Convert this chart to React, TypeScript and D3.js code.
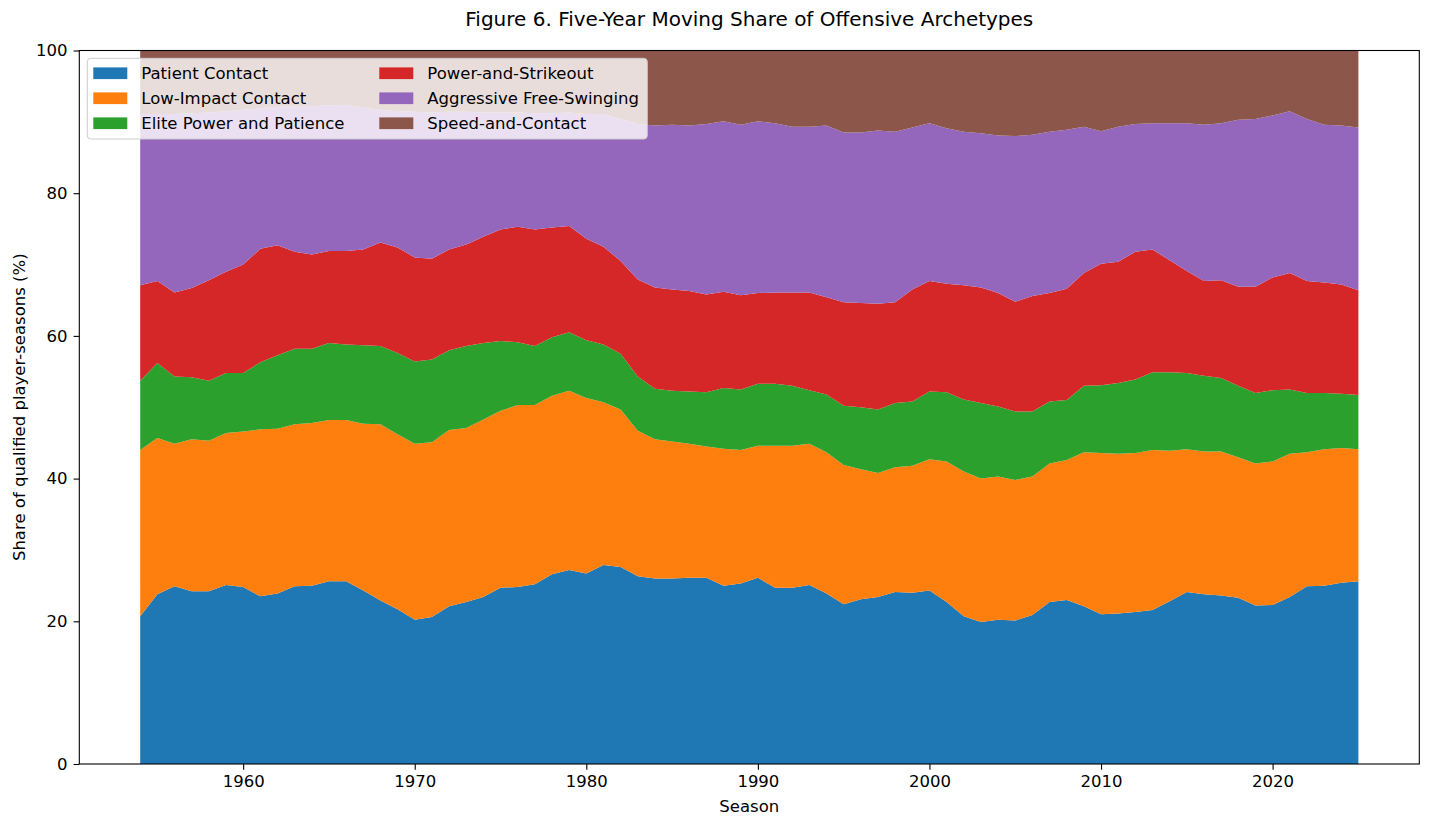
import React, { useRef, useEffect } from "react";
import * as d3 from "d3";

// Seasons 1954-2025 (five-year moving share, % of qualified player-seasons)
const firstSeason = 1954;
const lastSeason = 2025;

const archetypes = [
  "Patient Contact",
  "Low-Impact Contact",
  "Elite Power and Patience",
  "Power-and-Strikeout",
  "Aggressive Free-Swinging",
  "Speed-and-Contact",
];

const colors = ["#1f77b4", "#ff7f0e", "#2ca02c", "#d62728", "#9467bd", "#8c564b"];

const patientContact = [
  20.7, 23.8, 24.9, 24.2, 24.2, 25.1, 24.8, 23.5, 23.9, 24.9, 25.0, 25.6, 25.6, 24.3, 22.9, 21.7, 20.2, 20.6,
  22.1, 22.7, 23.4, 24.7, 24.8, 25.2, 26.6, 27.2, 26.7, 27.9, 27.6, 26.3, 26.0, 26.0, 26.1, 26.1, 25.0, 25.3,
  26.1, 24.7, 24.7, 25.1, 23.9, 22.4, 23.1, 23.4, 24.1, 24.0, 24.3, 22.7, 20.7, 19.9, 20.2, 20.1, 20.9, 22.7,
  23.0, 22.1, 21.0, 21.1, 21.3, 21.6, 22.8, 24.1, 23.8, 23.6, 23.3, 22.2, 22.3, 23.4, 24.9, 25.0, 25.4, 25.6,
];
const lowImpactContact = [
  23.3, 21.9, 20.0, 21.3, 21.1, 21.3, 21.8, 23.4, 23.1, 22.7, 22.8, 22.6, 22.6, 23.4, 24.7, 24.5, 24.7, 24.5,
  24.7, 24.4, 24.9, 24.8, 25.5, 25.1, 25.0, 25.1, 24.6, 22.8, 22.1, 20.4, 19.5, 19.2, 18.8, 18.4, 19.2, 18.7,
  18.5, 19.9, 19.9, 19.8, 19.8, 19.5, 18.2, 17.4, 17.5, 17.8, 18.4, 19.7, 20.3, 20.1, 20.1, 19.7, 19.4, 19.4,
  19.6, 21.6, 22.6, 22.4, 22.3, 22.4, 21.1, 20.0, 20.0, 20.2, 19.7, 19.9, 20.1, 20.1, 18.8, 19.1, 18.9, 18.5,
];
const elitePowerPatience = [
  9.7, 10.5, 9.4, 8.7, 8.4, 8.4, 8.2, 9.4, 10.3, 10.6, 10.4, 10.8, 10.6, 11.0, 11.0, 11.4, 11.5, 11.6,
  11.2, 11.5, 10.7, 9.8, 8.8, 8.3, 8.2, 8.2, 8.1, 8.1, 7.8, 7.6, 7.1, 7.1, 7.3, 7.6, 8.5, 8.5,
  8.7, 8.7, 8.4, 7.5, 8.1, 8.3, 8.7, 8.9, 9.0, 9.0, 9.5, 9.7, 10.1, 10.6, 9.8, 9.6, 9.1, 8.7,
  8.4, 9.3, 9.5, 9.9, 10.3, 10.9, 11.0, 10.7, 10.6, 10.3, 10.0, 9.9, 10.0, 9.0, 8.3, 7.9, 7.6, 7.6,
];
const powerStrikeout = [
  13.4, 11.5, 11.8, 12.5, 14.1, 14.2, 15.2, 15.9, 15.4, 13.6, 13.2, 12.9, 13.1, 13.4, 14.5, 14.8, 14.6, 14.1,
  14.1, 14.2, 14.9, 15.6, 16.2, 16.3, 15.4, 14.9, 14.2, 13.7, 13.0, 13.6, 14.2, 14.2, 14.1, 13.7, 13.5, 13.2,
  12.7, 12.8, 13.1, 13.7, 13.6, 14.5, 14.6, 14.8, 14.1, 15.7, 15.5, 15.2, 16.0, 16.2, 15.9, 15.4, 16.2, 15.2,
  15.6, 15.8, 17.0, 17.0, 17.9, 17.2, 15.7, 14.3, 13.3, 13.7, 13.9, 14.9, 15.8, 16.3, 15.7, 15.5, 15.3, 14.7,
];
const aggressiveFreeSwinging = [
  24.0, 23.4, 25.0, 24.5, 23.5, 22.5, 21.7, 19.7, 19.4, 20.4, 20.8, 20.4, 20.5, 19.9, 18.6, 19.1, 20.4, 20.5,
  19.3, 18.6, 17.4, 16.4, 16.0, 16.3, 16.0, 15.9, 17.5, 18.6, 19.9, 21.8, 22.7, 23.1, 23.2, 23.9, 23.9, 23.9,
  24.1, 23.7, 23.2, 23.2, 24.1, 23.8, 23.9, 24.3, 23.9, 22.7, 22.1, 21.8, 21.5, 21.6, 22.1, 23.2, 22.6, 22.6,
  22.3, 20.5, 18.6, 18.9, 17.9, 17.7, 19.2, 20.7, 21.9, 22.0, 23.4, 23.5, 22.7, 22.7, 22.7, 22.1, 22.3, 22.8,
];
const speedContact = [
  8.9, 8.9, 8.9, 8.8, 8.7, 8.5, 8.3, 8.1, 7.9, 7.8, 7.8, 7.7, 7.6, 8.0, 8.3, 8.5, 8.6, 8.7,
  8.6, 8.6, 8.7, 8.7, 8.7, 8.8, 8.8, 8.7, 8.9, 8.9, 9.6, 10.3, 10.5, 10.4, 10.5, 10.3, 9.9, 10.4,
  9.9, 10.2, 10.7, 10.7, 10.5, 11.5, 11.5, 11.2, 11.4, 10.8, 10.2, 10.9, 11.4, 11.6, 11.9, 12.0, 11.8, 11.4,
  11.1, 10.7, 11.3, 10.7, 10.3, 10.2, 10.2, 10.2, 10.4, 10.2, 9.7, 9.6, 9.1, 8.5, 9.6, 10.4, 10.5, 10.8,
];

const seriesValues = [
  patientContact,
  lowImpactContact,
  elitePowerPatience,
  powerStrikeout,
  aggressiveFreeSwinging,
  speedContact,
];

const xTicks = [1960, 1970, 1980, 1990, 2000, 2010, 2020];
const yTicks = [0, 20, 40, 60, 80, 100];

export default function App() {
  const ref = useRef<SVGSVGElement | null>(null);
  const width = 1431, height = 828;
  const margin = { top: 50.5, right: 11.7, bottom: 64, left: 79.3 };
  const font = "DejaVu Sans, sans-serif";

  useEffect(() => {
    const svg = d3.select(ref.current);
    svg.selectAll("*").remove();

    const seasons = d3.range(firstSeason, lastSeason + 1);
    const rows = seasons.map((s, i) => {
      const r: any = { season: s };
      archetypes.forEach((a, k) => (r[a] = seriesValues[k][i]));
      return r;
    });

    // matplotlib-style 5% x margin
    const pad = (lastSeason - firstSeason) * 0.05;
    const x = d3.scaleLinear()
      .domain([firstSeason - pad, lastSeason + pad])
      .range([margin.left, width - margin.right]);
    const y = d3.scaleLinear().domain([0, 100]).range([height - margin.bottom, margin.top]);

    const stacked = d3.stack().keys(archetypes)(rows);

    const area = d3.area<any>()
      .x(d => x(d.data.season))
      .y0(d => y(d[0]))
      .y1(d => y(d[1]));

    svg.append("g")
      .selectAll("path")
      .data(stacked)
      .join("path")
      .attr("fill", (d, i) => colors[i])
      .attr("d", area as any);

    // axes
    const xAxis = svg.append("g")
      .attr("transform", `translate(0,${height - margin.bottom})`)
      .call(d3.axisBottom(x).tickValues(xTicks).tickFormat(d3.format("d")).tickSize(5.7).tickPadding(6));
    const yAxis = svg.append("g")
      .attr("transform", `translate(${margin.left},0)`)
      .call(d3.axisLeft(y).tickValues(yTicks).tickSize(5.7).tickPadding(6));
    [xAxis, yAxis].forEach(g => {
      g.select(".domain").remove();
      g.selectAll("line").attr("stroke", "#000").attr("stroke-width", 1.1);
      g.selectAll("text").attr("font-size", 16.5).attr("font-family", font).attr("fill", "#000");
    });

    // frame
    svg.append("rect")
      .attr("x", margin.left)
      .attr("y", margin.top)
      .attr("width", width - margin.left - margin.right)
      .attr("height", height - margin.top - margin.bottom)
      .attr("fill", "none")
      .attr("stroke", "#000")
      .attr("stroke-width", 1.1);

    // title and labels
    const cx = (margin.left + width - margin.right) / 2;
    svg.append("text")
      .attr("x", cx).attr("y", 26)
      .attr("text-anchor", "middle")
      .attr("font-family", font).attr("font-size", 20)
      .text("Figure 6. Five-Year Moving Share of Offensive Archetypes");
    svg.append("text")
      .attr("x", cx).attr("y", 812)
      .attr("text-anchor", "middle")
      .attr("font-family", font).attr("font-size", 16.5)
      .text("Season");
    svg.append("text")
      .attr("transform", `translate(25,${(margin.top + height - margin.bottom) / 2}) rotate(-90)`)
      .attr("text-anchor", "middle")
      .attr("font-family", font).attr("font-size", 16.5)
      .text("Share of qualified player-seasons (%)");

    // legend, two columns
    const legend = svg.append("g");
    legend.append("rect")
      .attr("x", 87.3).attr("y", 58.3)
      .attr("width", 560).attr("height", 80.7)
      .attr("rx", 3.5)
      .attr("fill", "#fff").attr("fill-opacity", 0.8)
      .attr("stroke", "#ccc").attr("stroke-width", 1);
    const colX = [93.3, 379.3];
    archetypes.forEach((name, i) => {
      const col = Math.floor(i / 3), row = i % 3;
      const cy = 73.2 + row * 25;
      legend.append("rect")
        .attr("x", colX[col]).attr("y", cy - 5.8)
        .attr("width", 34).attr("height", 11.7)
        .attr("fill", colors[i]);
      legend.append("text")
        .attr("x", colX[col] + 48).attr("y", cy)
        .attr("dy", "0.36em")
        .attr("font-family", font).attr("font-size", 16.5)
        .text(name);
    });
  }, []);

  return (
    <svg ref={ref} width={width} height={height}
      style={{ position: "absolute", left: 0, top: 0, background: "#fff" }} />
  );
}
